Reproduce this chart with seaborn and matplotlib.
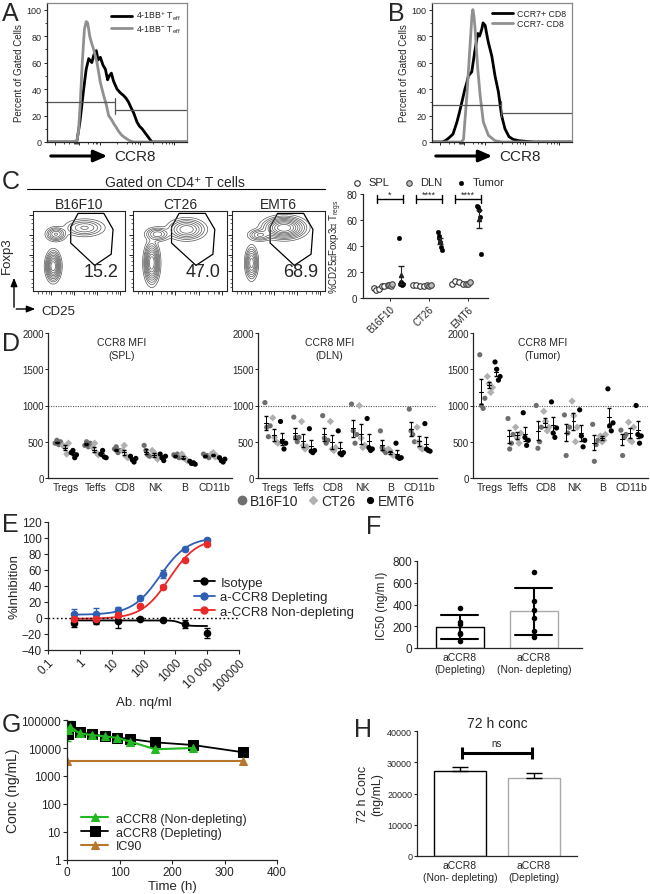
import numpy as np
import pandas as pd
import seaborn as sns
import matplotlib.pyplot as plt
from matplotlib.lines import Line2D
from matplotlib.patches import Polygon
from matplotlib.ticker import FixedLocator, FuncFormatter

# ---------------- data ----------------
# A: CCR8 histograms (x = position along CCR8 axis, y = percent of max)
a_pos_x = [0.0, 0.20, 0.214, 0.235, 0.262, 0.28, 0.298, 0.32, 0.335, 0.352, 0.365, 0.381, 0.40, 0.417, 0.433,
           0.445, 0.46, 0.475, 0.50, 0.525, 0.548, 0.565, 0.583, 0.60, 0.619, 0.643, 0.66, 0.679, 0.70, 0.714,
           0.735, 0.75, 1.0]
a_pos_y = [0, 0, 1, 15, 40, 55, 63, 60, 66, 69, 62, 64, 58, 55, 47, 50, 52, 46, 40, 37, 35, 33, 30, 26, 22,
           15, 12, 10, 7, 5, 2, 0, 0]
a_neg_x = [0.0, 0.20, 0.214, 0.225, 0.238, 0.252, 0.267, 0.28, 0.29, 0.298, 0.305, 0.318, 0.333, 0.345, 0.357,
           0.37, 0.381, 0.393, 0.405, 0.424, 0.44, 0.46, 0.476, 0.495, 0.512, 0.535, 0.56, 0.59, 0.62, 1.0]
a_neg_y = [0, 0, 1, 8, 30, 60, 85, 91, 90, 85, 80, 75, 70, 65, 60, 52, 45, 40, 35, 28, 20, 17, 14, 11, 8, 5,
           3, 1, 0, 0]
a_gate_x = [0.0, 0.483, 1.0]
a_gate_y = [30, 24]

# B: CCR7+ / CCR7- CD8
b_pos_x = [0.0, 0.071, 0.095, 0.12, 0.15, 0.178, 0.195, 0.213, 0.235, 0.249, 0.26, 0.284, 0.305, 0.327, 0.34,
           0.355, 0.365, 0.38, 0.39, 0.403, 0.427, 0.45, 0.474, 0.497, 0.521, 0.55, 0.58, 0.62, 0.67, 0.73, 1.0]
b_pos_y = [0, 0, 1, 3, 6, 15, 22, 30, 40, 45, 50, 53, 68, 82, 80, 85, 90, 88, 82, 75, 65, 50, 38, 20, 10, 4,
           2, 1, 0.5, 0, 0]
b_neg_x = [0.0, 0.21, 0.225, 0.249, 0.273, 0.285, 0.292, 0.3, 0.308, 0.327, 0.344, 0.367, 0.403, 0.45, 0.5, 1.0]
b_neg_y = [0, 0, 2, 35, 75, 95, 100, 95, 85, 55, 35, 15, 5, 1, 0, 0]
b_gate_x = [0.0, 0.49, 1.0]
b_gate_y = [28, 22]

# C: flow contour populations (cx, cy, sx, sy, weight) per tumor, and Treg %
c_tumors = ['B16F10', 'CT26', 'EMT6']
c_treg_pct = ['15.2', '47.0', '68.9']
c_pops_b16f10 = [(0.22, 0.31, 0.035, 0.08, 1.0), (0.25, 0.71, 0.05, 0.04, 0.35), (0.56, 0.79, 0.10, 0.05, 0.25)]
c_pops_ct26 = [(0.20, 0.35, 0.035, 0.11, 1.0), (0.26, 0.71, 0.06, 0.04, 0.30), (0.57, 0.77, 0.09, 0.06, 0.45)]
c_pops_emt6 = [(0.21, 0.35, 0.03, 0.09, 0.55), (0.30, 0.70, 0.06, 0.035, 0.25), (0.56, 0.79, 0.10, 0.06, 1.0)]
c_gate = [(0.41, 0.80), (0.49, 0.97), (0.77, 0.97), (0.87, 0.77), (0.85, 0.46), (0.67, 0.32), (0.41, 0.60)]
# C right: %CD25+Foxp3+ Tregs
c_spl = [[8, 6, 7, 9, 9], [10, 10, 9.5, 9], [11, 13, 12, 11]]
c_dln = [[10, 10, 9, 11], [10, 9.5, 10], [11, 11, 12]]
c_tumor = [[46, 10.5, 12, 10, 11], [51, 48, 46, 43, 39, 37], [71, 70, 68, 62, 34]]
c_sig = ['*', '****', '****']

# D: CCR8 MFI
d_cats = ['Tregs', 'Teffs', 'CD8', 'NK', 'B', 'CD11b']
d_tumors = ['B16F10', 'CT26', 'EMT6']
d_spl_b16f10 = [[480, 520, 460, 500], [450, 500, 430, 480], [400, 430, 350, 380], [450, 380, 320, 300],
                [320, 300, 330, 280], [330, 300, 310, 280]]
d_spl_ct26 = [[450, 420, 330, 480], [420, 480, 350, 320], [380, 450, 300, 280], [380, 350, 300, 260],
              [330, 290, 260, 240], [330, 350, 290, 300]]
d_spl_emt6 = [[350, 380, 280, 320], [330, 380, 290, 280], [300, 250, 220, 270], [330, 280, 240, 300],
              [230, 200, 210, 190], [280, 240, 220, 260]]
d_dln_b16f10 = [[1040, 700, 570, 720], [840, 560, 500, 560], [860, 550, 480, 520], [1020, 650, 480, 600],
                [650, 420, 380, 350], [950, 650, 600, 500]]
d_dln_ct26 = [[830, 560, 500, 480], [780, 450, 400, 430], [780, 400, 380, 420], [1000, 550, 420, 450],
              [400, 380, 330, 310], [700, 500, 420, 400]]
d_dln_emt6 = [[780, 500, 400, 480], [680, 370, 350, 380], [650, 340, 320, 350], [820, 420, 380, 400],
              [480, 290, 270, 280], [750, 400, 380, 370]]
d_tum_b16f10 = [[1700, 1000, 960, 1100], [820, 400, 480, 600], [1000, 410, 500, 700], [870, 310, 620, 700],
                [740, 230, 460, 520], [660, 310, 560, 600]]
d_tum_ct26 = [[1400, 1300, 1180, 1250], [700, 550, 480, 620], [920, 780, 650, 700], [1060, 860, 500, 700],
              [580, 500, 520, 600], [770, 520, 500, 700]]
d_tum_emt6 = [[1600, 1500, 1350, 1400], [900, 560, 450, 520], [1050, 620, 560, 690], [940, 580, 430, 520],
              [1230, 720, 650, 760], [1000, 600, 480, 580]]

# E: % inhibition vs antibody concentration
e_conc = [0.64, 3.2, 16, 80, 400, 2000, 10000]
e_iso = [-6, -4, -4, -1, -3, -7, -19]
e_iso_err = [5, 3, 8, 1, 1, 5, 6]
e_depl = [5, 5, 10, 25, 55, 86, 98]
e_depl_err = [6, 8, 4, 2, 5, 2, 2]
e_nondepl = [-1, -1, 4, 15, 39, 73, 93]
e_nondepl_err = [2, 2, 3, 2, 2, 2, 2]
# 4PL fit parameters (bottom, top, EC50, hill)
e_fit_iso = (-3, -10, 1500, 4)
e_fit_depl = (4, 101, 330, 1.0)
e_fit_nondepl = (-1, 100, 650, 1.0)

# F: IC50
f_groups = ['aCCR8\n(Depleting)', 'aCCR8\n(Non- depleting)']
f_ic50_depl = [365, 240, 225, 140, 130, 60]
f_ic50_nondepl = [700, 430, 350, 280, 160, 100]

# G: PK
g_time = [1, 6, 24, 48, 72, 96, 120, 168, 240]
g_nondepl = [44000, 58000, 33000, 29000, 26000, 23000, 17000, 9000, 10000]
g_nondepl_lo = [18000, 35000, 30000, 27000, 24000, 21500, 15500, 7000, 9000]
g_nondepl_hi = [75000, 95000, 36000, 31000, 28000, 24500, 18500, 12000, 11000]
g_time_depl = [1, 6, 24, 48, 72, 96, 120, 168, 240, 336]
g_depl = [31000, 63000, 36000, 31000, 26000, 23400, 21000, 15900, 12800, 7000]
g_ic90_time = [0, 336]
g_ic90 = [3500, 3500]

# H: 72 h concentration
h_groups = ['aCCR8\n(Non- depleting)', 'aCCR8\n(Depleting)']
h_conc = [27200, 24900]
h_sem = [1300, 1700]

# ---------------- figure ----------------
sns.set_style('ticks')
plt.rcParams['font.family'] = ['Liberation Sans', 'DejaVu Sans']
plt.rcParams['mathtext.fontset'] = 'custom'
plt.rcParams['mathtext.rm'] = 'Liberation Sans'
plt.rcParams['mathtext.it'] = 'Liberation Sans:italic'
plt.rcParams['axes.linewidth'] = 0.9

W, H = 650, 895
fig = plt.figure(figsize=(6.5, 8.95), dpi=100)


def axes_px(x0, y0, x1, y1):
    return fig.add_axes([x0 / W, 1 - y1 / H, (x1 - x0) / W, (y1 - y0) / H])


ov = fig.add_axes([0, 0, 1, 1])
ov.set_xlim(0, W)
ov.set_ylim(H, 0)
ov.axis('off')
ov.set_zorder(20)
ov.patch.set_alpha(0)

for letter, (lx, ly) in {'A': (2, 2), 'B': (388, 2), 'C': (2, 170), 'D': (2, 332), 'E': (2, 513),
                         'F': (366, 515), 'G': (2, 713), 'H': (354, 718)}.items():
    ov.text(lx, ly, letter, fontsize=18, va='top', ha='left')


# ---- A and B histograms ----
def histogram(ax, curves, gate_x, gate_y, labels):
    for (x, y, col), lab in zip(curves, labels):
        sns.lineplot(x=x, y=y, color=col, lw=2, label=lab, ax=ax, sort=False, estimator=None)
    ax.plot(gate_x[:2], [gate_y[0]] * 2, color='#555555', lw=0.9)
    ax.plot(gate_x[1:], [gate_y[1]] * 2, color='#555555', lw=0.9)
    ax.plot([gate_x[1]] * 2, [gate_y[1] - 3, gate_y[0] + 3], color='#555555', lw=0.9)
    ax.set_xlim(0, 1)
    ax.set_ylim(0, 105)
    ax.set_yticks([0, 20, 40, 60, 80, 100])
    ax.yaxis.set_minor_locator(FixedLocator(range(10, 100, 20)))
    ax.set_xticks([0.06, 0.226, 0.38, 0.667, 0.905])
    ax.xaxis.set_minor_locator(FixedLocator([0.12, 0.16, 0.19, 0.2, 0.21, 0.215, 0.22, 0.29, 0.33, 0.35, 0.36,
                                             0.5, 0.57, 0.61, 0.63, 0.65, 0.76, 0.82, 0.85, 0.87, 0.89]))
    ax.set_xticklabels([])
    ax.tick_params(labelsize=6.5, length=2.5, width=0.7, pad=1.5)
    ax.tick_params(which='minor', length=1.5, width=0.6)
    for s in ['top', 'right']:
        ax.spines[s].set_color('#888888')
    ax.set_xlabel('')
    ax.set_ylabel('Percent of Gated Cells', fontsize=7, labelpad=2)
    ax.legend(loc='upper right', frameon=False, fontsize=6.3, handlelength=2.4, handletextpad=0.4,
              labelspacing=0.1, borderaxespad=0.3)


axA = axes_px(47, 4, 187, 143)
histogram(axA, [(a_pos_x, a_pos_y, 'black'), (a_neg_x, a_neg_y, '#909090')], a_gate_x, a_gate_y,
          [r'4-1BB$^{+}$ T$_{\rm eff}$', r'4-1BB$^{-}$ T$_{\rm eff}$'])
axB = axes_px(432, 4, 572, 143)
histogram(axB, [(b_pos_x, b_pos_y, 'black'), (b_neg_x, b_neg_y, '#909090')], b_gate_x, b_gate_y,
          ['CCR7+ CD8', 'CCR7- CD8'])
for x0 in (48, 433):
    ov.annotate('', xy=(x0 + 62, 157), xytext=(x0, 157),
                arrowprops=dict(arrowstyle='-|>,head_length=0.8,head_width=0.35', lw=2.2, color='black'))
    ov.text(x0 + 66, 157, 'CCR8', fontsize=11, va='center', ha='left')

# ---- C: contour plots ----
ov.text(175, 183, 'Gated on CD4⁺ T cells', fontsize=10, ha='center', va='center')
ov.plot([27, 325], [190, 190], color='black', lw=0.8)
gx, gy = np.meshgrid(np.linspace(0, 1, 220), np.linspace(0, 1, 220))
for (x0, x1), name, pops, pct in zip([(33, 125), (133, 227), (232, 325)], c_tumors,
                                     [c_pops_b16f10, c_pops_ct26, c_pops_emt6], c_treg_pct):
    ax = axes_px(x0, 212, x1, 292)
    z = np.zeros_like(gx)
    for cx, cy, sx, sy, w in pops:
        z += w * np.exp(-((gx - cx) ** 2 / (2 * sx ** 2) + (gy - cy) ** 2 / (2 * sy ** 2)))
    ax.contour(gx, gy, z, levels=z.max() * np.array([0.02, 0.05, 0.09, 0.15, 0.23, 0.33, 0.45, 0.6, 0.78]),
               colors='#555555', linewidths=0.5)
    ax.add_patch(Polygon(c_gate, closed=True, fill=False, edgecolor='black', lw=0.9))
    ax.set_xlim(0, 1)
    ax.set_ylim(0, 1)
    ax.set_xticks([0.2, 0.45, 0.7, 0.95])
    ax.set_yticks([0.25, 0.45, 0.7, 0.95])
    ax.xaxis.set_minor_locator(FixedLocator([0.05, 0.1, 0.14, 0.17, 0.3, 0.36, 0.4, 0.42, 0.55, 0.61, 0.65,
                                             0.67, 0.8, 0.86, 0.9, 0.92]))
    ax.yaxis.set_minor_locator(FixedLocator([0.05, 0.1, 0.15, 0.32, 0.38, 0.42, 0.52, 0.58, 0.63, 0.66,
                                             0.78, 0.85, 0.9]))
    ax.set_xticklabels([])
    ax.set_yticklabels([])
    ax.tick_params(length=3, width=0.7)
    ax.tick_params(which='minor', length=1.8, width=0.5)
    for s in ax.spines.values():
        s.set_linewidth(0.8)
    ax.text(0.93, 0.24, pct, transform=ax.transAxes, fontsize=13, ha='right', va='center')
    ax.set_title(name, fontsize=10, pad=2)

ov.annotate('', xy=(14, 276), xytext=(14, 311),
            arrowprops=dict(arrowstyle='-|>,head_length=0.5,head_width=0.2', lw=1, color='black'))
ov.annotate('', xy=(38, 310), xytext=(13.5, 310),
            arrowprops=dict(arrowstyle='-|>,head_length=0.5,head_width=0.2', lw=1, color='black'))
ov.text(7, 256, 'Foxp3', fontsize=9.5, rotation=90, ha='center', va='center')
ov.text(41, 312, 'CD25', fontsize=9.5, ha='left', va='center')

# ---- C right: Treg percentages ----
axC = axes_px(363, 195, 488, 299)
rows = []
for gi, g in enumerate(c_tumors):
    for tissue, vals, off, spread in [('SPL', c_spl[gi], -0.28, 0.14), ('DLN', c_dln[gi], 0.0, 0.06),
                                      ('Tumor', c_tumor[gi], 0.28, 0.06)]:
        for xo, v in zip(np.linspace(-spread, spread, len(vals)), vals):
            rows.append(dict(tumor=g, tissue=tissue, x=gi + off + xo, pct=v))
cdf = pd.DataFrame(rows)
sns.scatterplot(data=cdf[cdf.tissue == 'SPL'], x='x', y='pct', marker='o', s=16, facecolor='white',
                edgecolor='#333333', linewidth=0.8, ax=axC, label='SPL', zorder=3)
sns.scatterplot(data=cdf[cdf.tissue == 'DLN'], x='x', y='pct', marker='o', s=16, facecolor='#bbbbbb',
                edgecolor='#444444', linewidth=0.8, ax=axC, label='DLN', zorder=3)
sns.scatterplot(data=cdf[cdf.tissue == 'Tumor'], x='x', y='pct', marker='o', s=11, color='black',
                edgecolor='black', ax=axC, label='Tumor', zorder=3)
for gi, vals in enumerate(c_tumor):
    m, se = np.mean(vals), np.std(vals, ddof=1) / np.sqrt(len(vals))
    axC.errorbar(gi + 0.28, m, yerr=se, fmt='^', ms=3, color='#222222', capsize=2, lw=0.8, zorder=4)
    axC.plot([gi - 0.33, gi + 0.33], [76, 76], color='black', lw=1)
    for xe in (gi - 0.33, gi + 0.33):
        axC.plot([xe, xe], [73, 79], color='black', lw=1)
    axC.text(gi, 76.5, c_sig[gi], fontsize=6.5, ha='center', va='bottom')
axC.set_xlim(-0.69, 2.51)
axC.set_ylim(0, 80)
axC.set_yticks([0, 20, 40, 60, 80])
axC.set_xticks([0, 1, 2])
axC.set_xticklabels(c_tumors, rotation=45, ha='right', rotation_mode='anchor', fontsize=7)
axC.tick_params(labelsize=7, length=2.5, width=0.7, pad=1.5)
axC.set_xlabel('')
axC.set_ylabel('%CD25⁺Foxp3⁺ T$_{\\rm regs}$', fontsize=7, labelpad=2)
sns.despine(ax=axC)
axC.legend(loc='lower center', bbox_to_anchor=(0.5, 1.02), ncol=3, frameon=False, fontsize=8,
           handletextpad=0.05, columnspacing=0.7, borderaxespad=0, markerscale=1.0)

# ---- D: CCR8 MFI ----
tumor_off = {'B16F10': -0.27, 'CT26': 0.0, 'EMT6': 0.27}
tumor_pal = {'B16F10': '#6e6e6e', 'CT26': '#b0b0b0', 'EMT6': '#000000'}
tumor_mark = {'B16F10': 'o', 'CT26': 'D', 'EMT6': 'o'}
jit = [-0.09, -0.03, 0.03, 0.09]
for (x0, x1), title, sets in zip([(48, 232), (258, 437), (473, 648)],
                                 ['CCR8 MFI\n(SPL)', 'CCR8 MFI\n(DLN)', 'CCR8 MFI\n(Tumor)'],
                                 [(d_spl_b16f10, d_spl_ct26, d_spl_emt6),
                                  (d_dln_b16f10, d_dln_ct26, d_dln_emt6),
                                  (d_tum_b16f10, d_tum_ct26, d_tum_emt6)]):
    ax = axes_px(x0, 334, x1, 479)
    rows = []
    for tumor, vals in zip(d_tumors, sets):
        for ci, cat in enumerate(d_cats):
            for j, v in enumerate(vals[ci]):
                rows.append(dict(tumor=tumor, x=ci + tumor_off[tumor] + jit[j], mfi=v))
    ddf = pd.DataFrame(rows)
    sns.scatterplot(data=ddf, x='x', y='mfi', hue='tumor', style='tumor', palette=tumor_pal,
                    markers=tumor_mark, s=14, edgecolor='none', legend=False, ax=ax, zorder=3)
    for tumor, vals in zip(d_tumors, sets):
        for ci in range(len(d_cats)):
            v = np.array(vals[ci])
            xc = ci + tumor_off[tumor] - 0.04
            m, se = v.mean(), v.std(ddof=1) / np.sqrt(len(v))
            ax.errorbar(xc, m, yerr=se, fmt='none', ecolor='black', capsize=1.2, lw=0.7, zorder=4)
            ax.plot([xc - 0.07, xc + 0.07], [m, m], color='black', lw=0.8, zorder=4)
    ax.axhline(1000, color='#555555', lw=0.8, ls=(0, (1, 1.2)))
    ax.set_xlim(-0.6, 5.6)
    ax.set_ylim(0, 2000)
    ax.set_yticks([0, 500, 1000, 1500, 2000])
    ax.set_xticks(range(len(d_cats)))
    ax.set_xticklabels(d_cats)
    ax.tick_params(axis='x', length=0, labelsize=7.5, pad=3)
    ax.tick_params(axis='y', length=2, labelsize=7, width=0.7, pad=1)
    ax.set_xlabel('')
    ax.set_ylabel('')
    sns.despine(ax=ax)
    ax.text(0.4, 0.97, title, transform=ax.transAxes, fontsize=7.5, ha='center', va='top', linespacing=1.3)

d_msize = {'B16F10': 6, 'CT26': 4.5, 'EMT6': 4.2}
d_handles = [Line2D([], [], marker=tumor_mark[t], ls='none', color=tumor_pal[t], markersize=d_msize[t])
             for t in d_tumors]
fig.legend(d_handles, d_tumors, loc='center', bbox_to_anchor=(325 / W, 1 - 502 / H), ncol=3, frameon=False,
           fontsize=10, handletextpad=0.05, columnspacing=0.6, handlelength=1.0)

# ---- E: inhibition curves ----
axE = axes_px(48, 523, 239, 651)
xs = np.geomspace(e_conc[0], e_conc[-1], 200)
e_handles = []
for vals, errs, fit, col, lab in [(e_iso, e_iso_err, e_fit_iso, 'black', 'Isotype'),
                                  (e_depl, e_depl_err, e_fit_depl, '#2f5fb3', 'a-CCR8 Depleting'),
                                  (e_nondepl, e_nondepl_err, e_fit_nondepl, '#ea2a2a', 'a-CCR8 Non-depleting')]:
    bot, top, ec50, hill = fit
    axE.plot(xs, bot + (top - bot) / (1 + (ec50 / xs) ** hill), color=col, lw=1.3)
    axE.errorbar(e_conc, vals, yerr=errs, fmt='o', ms=4.5, color=col, capsize=2, lw=0.9)
    e_handles.append(Line2D([], [], color=col, marker='o', ms=5, lw=1.3))
axE.axhline(0, color='black', lw=1, ls=(0, (1.2, 1.8)))
axE.set_xscale('log')
axE.set_xlim(0.1, 100000)
axE.set_ylim(-40, 120)
axE.set_yticks(range(-40, 121, 20))
axE.set_xticks([0.1, 1, 10, 100, 1000, 10000, 100000])
axE.set_xticklabels(['0.1', '1', '10', '100', '1000', '10 000', '100000'], rotation=45, ha='right',
                    rotation_mode='anchor')
axE.tick_params(labelsize=8.5, length=3, width=0.8, pad=1.5)
axE.tick_params(which='minor', length=2, width=0.6)
axE.set_ylabel('%Inhibition', fontsize=9.5, labelpad=1)
axE.set_xlabel('Ab. nq/ml', fontsize=9.5, labelpad=2)
sns.despine(ax=axE)
fig.legend(e_handles, ['Isotype', 'a-CCR8 Depleting', 'a-CCR8 Non-depleting'], loc='upper left',
           bbox_to_anchor=(182 / W, 1 - 566 / H), frameon=False,
           fontsize=9.5, handletextpad=0.4, labelspacing=0.15, handlelength=1.6)

# ---- F: IC50 ----
axF = axes_px(417, 562, 582, 649)
fdf = pd.DataFrame({'group': [f_groups[0]] * len(f_ic50_depl) + [f_groups[1]] * len(f_ic50_nondepl),
                    'ic50': f_ic50_depl + f_ic50_nondepl})
sns.barplot(data=fdf, x='group', y='ic50', errorbar='sd', capsize=0.5, width=0.65, color='white',
            err_kws={'linewidth': 1.5, 'color': 'black'}, ax=axF)
for p, ec in zip(axF.patches, ['black', '#aaaaaa']):
    p.set_edgecolor(ec)
    p.set_linewidth(1.0)
sns.stripplot(data=fdf, x='group', y='ic50', jitter=False, color='black', size=4, ax=axF, zorder=5)
axF.set_xlim(-0.58, 1.65)
axF.set_ylim(0, 800)
axF.set_yticks([0, 200, 400, 600, 800])
axF.tick_params(axis='y', labelsize=8.5, length=2.5, width=0.8, pad=1)
axF.tick_params(axis='x', length=0, labelsize=7.5, pad=3)
axF.set_xlabel('')
axF.set_ylabel('IC50 (ng/m l)', fontsize=8.5, labelpad=3)
sns.despine(ax=axF)

# ---- G: PK ----
axG = axes_px(67, 721, 277, 861)
axG.errorbar(g_time, g_nondepl, yerr=[np.subtract(g_nondepl, g_nondepl_lo), np.subtract(g_nondepl_hi, g_nondepl)],
             fmt='none', ecolor='#22b822', capsize=2.5, lw=1)
sns.lineplot(x=g_time, y=g_nondepl, color='#22b822', marker='^', ms=6, mec='#22b822', lw=1.5,
             label='aCCR8 (Non-depleting)', ax=axG, zorder=3)
sns.lineplot(x=g_time_depl, y=g_depl, color='black', marker='s', ms=6.5, mec='black', lw=1.3,
             label='aCCR8 (Depleting)', ax=axG, zorder=2)
sns.lineplot(x=g_ic90_time, y=g_ic90, color='#b8762c', marker='^', ms=6, mec='#b8762c', lw=1.5,
             label='IC90', ax=axG, zorder=2)
axG.set_yscale('log')
axG.set_ylim(1, 100000)
axG.set_xlim(0, 400)
axG.set_xticks([0, 100, 200, 300, 400])
axG.set_yticks([1, 10, 100, 1000, 10000, 100000])
axG.yaxis.set_major_formatter(FuncFormatter(lambda v, p: f'{v:.0f}'))
axG.yaxis.set_minor_locator(FixedLocator([]))
axG.tick_params(labelsize=8.5, length=3, width=0.8, pad=1.5)
axG.set_xlabel('Time (h)', fontsize=9.5, labelpad=1)
axG.set_ylabel('Conc (ng/mL)', fontsize=10, labelpad=1)
sns.despine(ax=axG)
axG.legend(loc='lower left', frameon=False, fontsize=9, handlelength=2.2, handletextpad=0.6,
           labelspacing=0.15, borderaxespad=0.2, bbox_to_anchor=(0.03, 0.0))

# ---- H: 72 h conc ----
axH = axes_px(417, 732, 577, 857)
sns.barplot(x=h_groups, y=h_conc, width=0.7, color='white', ax=axH)
for p, ec in zip(axH.patches, ['black', '#aaaaaa']):
    p.set_edgecolor(ec)
    p.set_linewidth(1.0)
axH.errorbar([0, 1], h_conc, yerr=[[0, 0], h_sem], fmt='none', ecolor='black', capsize=6, lw=1)
axH.errorbar([0.5], [33000], xerr=[0.47], fmt='none', ecolor='black', capsize=4, lw=2.2, capthick=2.2)
axH.text(0.5, 34500, 'ns', fontsize=7, ha='center', va='bottom')
axH.set_xlim(-0.58, 1.58)
axH.set_ylim(0, 40000)
axH.set_yticks([0, 10000, 20000, 30000, 40000])
axH.tick_params(axis='y', labelsize=6.5, length=2.5, width=0.8, pad=1)
axH.tick_params(axis='x', length=0, labelsize=7.5, pad=3)
axH.set_ylabel('72 h Conc\n(ng/mL)', fontsize=9, labelpad=3)
axH.set_title('72 h conc', fontsize=10, pad=3)
sns.despine(ax=axH)

fig.savefig('out.png', dpi=100)
print("File successfully saved.")
